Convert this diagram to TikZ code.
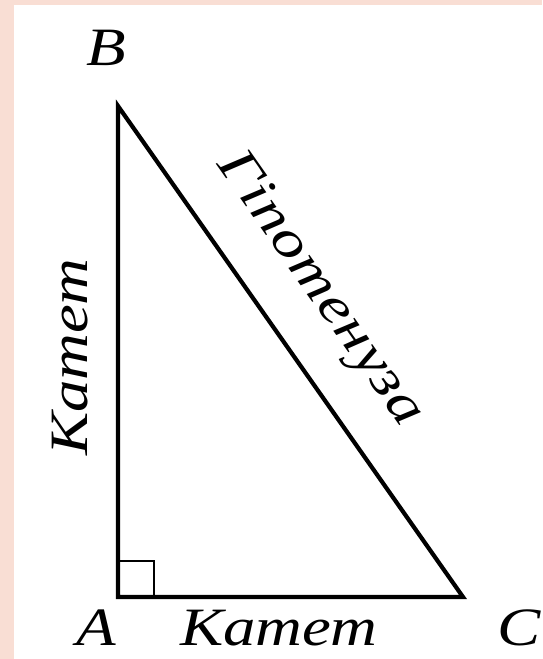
\documentclass[tikz,border=0pt]{standalone}
\usepackage{fontspec}
\setmainfont{Liberation Serif}[FakeStretch=1.2]
\definecolor{pinkbg}{RGB}{249,222,212}
\begin{document}
\begin{tikzpicture}[x=1pt,y=-1pt,
  lbl/.style={font=\fontsize{54}{60}\selectfont\itshape, inner sep=0pt},
  side/.style={line width=4.2pt, line join=miter},
  rightmark/.style={line width=2.8pt}]
\fill[pinkbg] (0,0) rectangle (542,659);
\fill[white] (14,5) rectangle (542,659);
\useasboundingbox (0,0) rectangle (542,659);
\coordinate (A) at (118,597);
\coordinate (B) at (118,106);
\coordinate (C) at (463,597);
\draw[side] (A) -- (B) -- (C) -- cycle;
\draw[rightmark] (118,561) coordinate (s1) -- (154,561) coordinate (s2) -- (154,597) coordinate (s3);
\node[lbl] (lB) at (106,48) {B};
\node[lbl] (lA) at (96,628) {A};
\node[lbl] (lC) at (519,628) {C};
\node[lbl, rotate=90] (kat1) at (70,357) {Катет};
\node[lbl] (kat2) at (279,628) {Катет};
\node[lbl, rotate=-54.9] (hyp) at (319,290) {\addfontfeature{LetterSpace=2}Гіпотенуза};
\end{tikzpicture}
\end{document}
